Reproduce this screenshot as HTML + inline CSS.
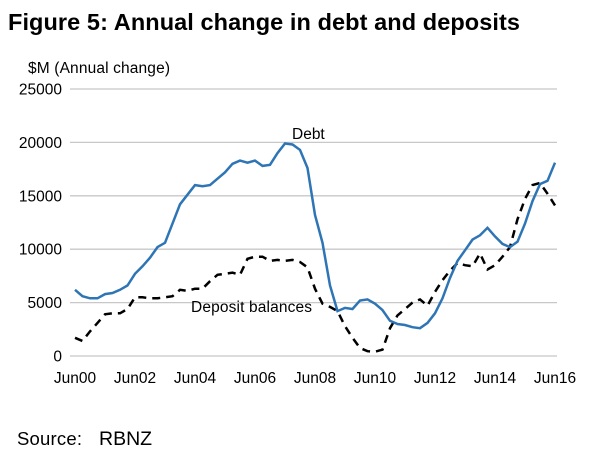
<!DOCTYPE html>
<html><head><meta charset="utf-8"><style>
body{margin:0;background:#fff;font-family:"Liberation Sans",Arial,sans-serif}
</style></head><body>
<svg width="600" height="451" viewBox="0 0 600 451" style="display:block">
<text x="8" y="30" font-size="23.5" font-weight="bold" fill="#000" textLength="512">Figure 5: Annual change in debt and deposits</text>
<text x="28" y="73" font-size="15.5" fill="#000" textLength="142">$M (Annual change)</text>
<g id="grid"></g>
<g id="plot"></g>
<text x="292" y="139" font-size="15.5" fill="#000">Debt</text>
<text x="191" y="312" font-size="15.5" fill="#000" textLength="121">Deposit balances</text>
<text y="445" font-size="18.5" fill="#000"><tspan x="17" textLength="65">Source:</tspan><tspan x="99" font-size="19.5">RBNZ</tspan></text>
</svg>
<script>
const yTicks=[0,5000,10000,15000,20000,25000];
const xTickLabels=["Jun00","Jun02","Jun04","Jun06","Jun08","Jun10","Jun12","Jun14","Jun16"];
const debt=[6200,5600,5400,5400,5800,5900,6200,6600,7700,8400,9200,10200,10600,12400,14200,15100,16000,15900,16000,16600,17200,18000,18300,18100,18300,17800,17900,19000,19900,19800,19300,17600,13200,10600,6600,4200,4500,4400,5200,5300,4900,4300,3300,3000,2900,2700,2600,3100,4000,5400,7300,8900,9900,10900,11300,12000,11200,10500,10200,10700,12400,14500,16100,16400,18100];
const deposits=[1700,1400,2300,3100,3900,4000,4000,4400,5500,5500,5400,5400,5500,5600,6200,6100,6300,6300,7000,7600,7700,7800,7600,9100,9300,9300,8900,9000,8900,9000,8800,8300,6300,4900,4600,4200,2800,1700,750,450,400,600,2600,3800,4400,5000,5300,4700,6000,7100,8000,8700,8500,8400,9600,8100,8500,9300,10200,12800,14700,16000,16200,15200,14100];
const NS="http://www.w3.org/2000/svg";
const x0=75,x1=555,yb=356,yt=89,ymax=25000;
function xs(i){return x0+(x1-x0)*i/(debt.length-1);}
function ys(v){return yb-(yb-yt)*v/ymax;}
const grid=document.getElementById('grid'),plot=document.getElementById('plot');
yTicks.forEach(t=>{
 const l=document.createElementNS(NS,'line');
 l.setAttribute('x1',70);l.setAttribute('x2',557);l.setAttribute('y1',ys(t));l.setAttribute('y2',ys(t));
 l.setAttribute('stroke','#c8c8c8');l.setAttribute('stroke-width','1.3');
 
 
 grid.appendChild(l);
 const tx=document.createElementNS(NS,'text');
 tx.setAttribute('x',62);tx.setAttribute('y',ys(t)+5.5);tx.setAttribute('text-anchor','end');tx.setAttribute('font-size','15.5');
 tx.textContent=t;
 
 
 grid.appendChild(tx);
});
xTickLabels.forEach((s,k)=>{
 const tx=document.createElementNS(NS,'text');
 tx.setAttribute('x',xs(k*8));tx.setAttribute('y',383);tx.setAttribute('text-anchor','middle');tx.setAttribute('font-size','15.5');
 tx.textContent=s;
 
 
 grid.appendChild(tx);
});
function line(arr,color,dash,name){
 const p=document.createElementNS(NS,'path');
 p.setAttribute('d',arr.map((v,i)=>(i?'L':'M')+xs(i).toFixed(1)+','+ys(v).toFixed(1)).join(''));
 p.setAttribute('fill','none');p.setAttribute('stroke',color);p.setAttribute('stroke-width','2.5');
 if(dash)p.setAttribute('stroke-dasharray',dash);
 
 
 plot.appendChild(p);
}
line(deposits,'#000','8,6','deposits-line');
line(debt,'#2e75b6',null,'debt-line');
</script>
</body></html>
